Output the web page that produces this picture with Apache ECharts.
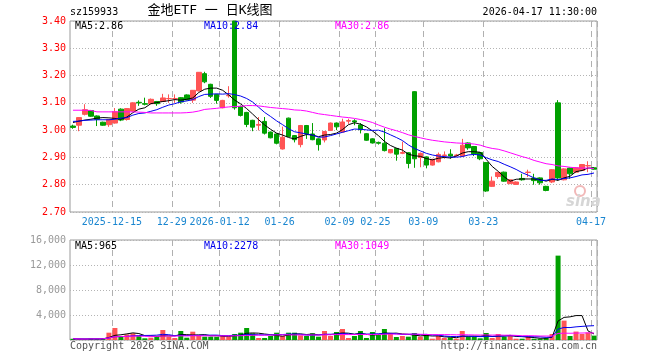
<!DOCTYPE html>
<html><head><meta charset="utf-8">
<script src="https://cdn.jsdelivr.net/npm/echarts@6/dist/echarts.min.js"></script>
<style>html,body{margin:0;padding:0;background:#fff}#c{width:660px;height:360px}</style>
</head><body><div id="c"></div>
<script>
const dates = [
'2025-12-04','2025-12-05','2025-12-08','2025-12-09','2025-12-10','2025-12-11','2025-12-12',
'2025-12-15','2025-12-16','2025-12-17','2025-12-18','2025-12-19','2025-12-22','2025-12-23','2025-12-24','2025-12-25','2025-12-26',
'2025-12-29','2025-12-30','2025-12-31',
'2026-01-05','2026-01-06','2026-01-07','2026-01-08','2026-01-09','2026-01-12','2026-01-13','2026-01-14','2026-01-15','2026-01-16',
'2026-01-19','2026-01-20','2026-01-21','2026-01-22','2026-01-23','2026-01-26','2026-01-27','2026-01-28','2026-01-29','2026-01-30',
'2026-02-02','2026-02-03','2026-02-04','2026-02-05','2026-02-06','2026-02-09','2026-02-10','2026-02-11','2026-02-12','2026-02-13',
'2026-02-24','2026-02-25','2026-02-26','2026-02-27',
'2026-03-02','2026-03-03','2026-03-04','2026-03-05','2026-03-06','2026-03-09','2026-03-10','2026-03-11','2026-03-12','2026-03-13',
'2026-03-16','2026-03-17','2026-03-18','2026-03-19','2026-03-20','2026-03-23','2026-03-24','2026-03-25','2026-03-26','2026-03-27',
'2026-03-30','2026-03-31','2026-04-01','2026-04-02','2026-04-03','2026-04-07','2026-04-08','2026-04-09','2026-04-10',
'2026-04-13','2026-04-14','2026-04-15','2026-04-16','2026-04-17'];

const opens = [3.015,3.018,3.058,3.072,3.052,3.029,3.020,3.026,3.077,3.039,3.070,3.102,3.097,3.097,3.105,3.105,3.115,3.115,3.119,3.129,
3.110,3.144,3.207,3.168,3.131,3.082,3.126,3.400,3.087,3.065,3.036,3.018,3.032,2.993,2.986,2.931,3.044,2.980,2.947,3.017,
2.986,2.968,2.964,2.999,3.026,2.993,3.033,3.034,3.019,2.987,2.968,2.955,2.952,2.917,2.933,2.915,2.917,3.141,2.900,2.902,
2.872,2.884,2.907,2.912,2.907,2.905,2.953,2.940,2.918,2.881,2.794,2.830,2.846,2.804,2.801,2.823,2.845,2.824,2.825,2.794,
2.810,3.100,2.818,2.861,2.846,2.852,2.869,2.862];
const closes = [3.010,3.046,3.075,3.051,3.040,3.018,3.039,3.067,3.037,3.079,3.100,3.100,3.095,3.113,3.097,3.118,3.116,3.116,3.103,3.111,
3.146,3.212,3.177,3.124,3.109,3.109,3.128,3.082,3.054,3.021,3.011,3.021,2.989,2.972,2.952,2.974,2.977,2.965,3.017,2.986,
2.965,2.947,2.995,3.026,3.012,3.030,3.035,3.030,3.002,2.963,2.953,2.952,2.925,2.929,2.912,2.918,2.878,2.895,2.915,2.872,
2.893,2.911,2.909,2.905,2.909,2.945,2.935,2.913,2.895,2.777,2.813,2.845,2.813,2.818,2.810,2.818,2.846,2.815,2.807,2.779,
2.855,2.825,2.858,2.840,2.862,2.874,2.870,2.857];
const lows = [3.005,2.996,3.054,3.049,3.015,3.016,3.012,3.024,3.033,3.035,3.068,3.089,3.091,3.095,3.089,3.103,3.100,3.100,3.097,3.109,
3.100,3.142,3.172,3.118,3.097,3.080,3.119,3.075,3.050,3.011,2.996,2.999,2.984,2.970,2.948,2.929,2.975,2.955,2.937,2.968,
2.963,2.925,2.955,2.997,3.000,2.991,3.023,3.018,2.988,2.961,2.951,2.947,2.922,2.915,2.888,2.912,2.860,2.862,2.864,2.860,
2.870,2.882,2.895,2.895,2.903,2.903,2.928,2.905,2.890,2.774,2.792,2.822,2.811,2.802,2.799,2.815,2.828,2.800,2.800,2.776,
2.806,2.815,2.816,2.822,2.844,2.850,2.846,2.855];
const highs = [3.020,3.048,3.095,3.074,3.054,3.031,3.041,3.081,3.080,3.081,3.102,3.109,3.119,3.116,3.107,3.133,3.131,3.131,3.121,3.131,
3.147,3.213,3.214,3.170,3.133,3.111,3.161,3.400,3.090,3.067,3.038,3.048,3.048,2.995,2.988,3.013,3.046,2.982,3.019,3.019,
3.026,2.970,2.997,3.028,3.028,3.042,3.042,3.040,3.026,2.989,2.970,2.958,3.007,2.931,2.935,2.958,2.919,3.143,2.918,2.904,
2.895,2.918,2.922,2.930,2.913,2.968,2.955,2.942,2.920,2.883,2.830,2.847,2.848,2.820,2.812,2.840,2.855,2.840,2.827,2.796,
2.857,3.110,2.860,2.863,2.864,2.876,2.886,2.864];
const volumes = [200,150,130,220,180,260,1170,1920,640,900,1070,640,270,370,530,1600,530,320,1440,370,
1330,640,530,530,530,800,530,960,1170,1920,1070,320,320,640,1170,640,1170,1170,750,640,
1070,530,1440,640,1280,1760,320,640,1440,320,1280,850,1760,1120,480,640,530,1120,530,800,
210,640,320,430,210,1440,530,530,270,1120,320,960,530,800,210,210,530,210,210,320,
960,13500,3100,640,1350,960,1200,700];

// moving-average values before a full window exists
const ma5Head = [3.028,3.033,3.037,3.040];
const ma10Head = [3.032,3.033,3.036,3.037,3.038,3.038,3.038,3.040,3.044];
const ma30Head = [3.073,3.073,3.073,3.072,3.067,3.067,3.067,3.067,3.067,3.067,3.067,3.066,3.065,3.063,3.063,3.063,3.063,3.063,3.063,3.064,
3.066,3.070,3.076,3.078,3.080,3.083,3.085,3.087,3.087];

const tickDates = ['2025-12-15','2025-12-29','2026-01-12','2026-01-26','2026-02-09','2026-02-25','2026-03-09','2026-03-23','2026-04-17'];
const tickLabels = ['2025-12-15','12-29','2026-01-12','01-26','02-09','02-25','03-09','03-23','04-17'];
const priceTicks = [2.7,2.8,2.9,3.0,3.1,3.2,3.3,3.4];
const volTicks = [0,4000,8000,12000,16000];
const priceMaText = ['MA5:2.86','MA10:2.84','MA30:2.86'];
const volMaText = ['MA5:965','MA10:2278','MA30:1049'];

function movingAvg(arr, n, head, dec) {
  return arr.map((v, i) => {
    let s = 0, c = 0;
    if (i < n - 1) {
      if (head) return head[i];
      for (let k = 0; k <= i; k++) { s += arr[k]; c++; }
    } else {
      for (let k = i - n + 1; k <= i; k++) { s += arr[k]; c++; }
    }
    return +(s / c).toFixed(dec);
  });
}

const UP = '#ff5555', DOWN = '#00a000';
const tickIdx = tickDates.map(d => dates.indexOf(d));
const isTick = (i) => tickIdx.indexOf(i) >= 0;
const labelFor = {};
tickDates.forEach((d, k) => labelFor[d] = tickLabels[k]);

const kData = dates.map((d, i) => [opens[i], closes[i], lows[i], highs[i]]);
const volData = volumes.map((v, i) => ({
  value: v,
  itemStyle: { color: closes[i] >= opens[i] ? UP : DOWN }
}));

const FONT = 'DejaVu Sans Mono';
const gridLine = { show: true, lineStyle: { color: '#b4b4b4', type: [1, 2], width: 1 } };
const vLine = { show: true, interval: (i) => isTick(i), lineStyle: { color: '#b0b0b0', type: [6, 4], width: 1 } };

const chart = echarts.init(document.getElementById('c'), null, { renderer: 'canvas' });
const lineS = (name, data, color, xi, yi) => ({
  name, type: 'line', data, xAxisIndex: xi, yAxisIndex: yi, symbol: 'none', silent: true,
  lineStyle: { color, width: 1 }, z: 5, animation: false
});

chart.setOption({
  animation: false,
  grid: [
    { left: 70, top: 21, width: 527, height: 191, show: true, borderColor: '#9a9a9a', borderWidth: 1 },
    { left: 70, top: 240, width: 527, height: 100, show: true, borderColor: '#9a9a9a', borderWidth: 1 }
  ],
  xAxis: [
    { type: 'category', gridIndex: 0, data: dates, boundaryGap: true,
      axisLine: { show: false }, axisTick: { show: false },
      axisLabel: { interval: (i) => isTick(i), formatter: (v) => labelFor[v] || '',
        color: '#1a86d0', fontFamily: FONT, fontSize: 10, margin: 5, padding: [0, 6, 0, 0] },
      splitLine: vLine },
    { type: 'category', gridIndex: 1, data: dates, boundaryGap: true,
      axisLine: { show: false }, axisTick: { show: false }, axisLabel: { show: false },
      splitLine: vLine }
  ],
  yAxis: [
    { type: 'value', gridIndex: 0, min: priceTicks[0], max: priceTicks[priceTicks.length - 1], interval: 0.1,
      axisLine: { show: false }, axisTick: { show: false },
      axisLabel: { color: '#ff0000', fontFamily: FONT, fontSize: 10, margin: 4, formatter: (v) => v.toFixed(2) },
      splitLine: gridLine },
    { type: 'value', gridIndex: 1, min: volTicks[0], max: volTicks[volTicks.length - 1], interval: 4000,
      axisLine: { show: false }, axisTick: { show: false },
      axisLabel: { color: '#999999', fontFamily: FONT, fontSize: 10, margin: 4, showMinLabel: false },
      splitLine: gridLine }
  ],
  series: [
    { type: 'candlestick', data: kData, xAxisIndex: 0, yAxisIndex: 0, barWidth: 5, silent: true,
      itemStyle: { color: UP, color0: DOWN, borderColor: UP, borderColor0: DOWN, borderWidth: 1 }, z: 3 },
    lineS('MA5', movingAvg(closes, 5, ma5Head, 3), '#000000', 0, 0),
    lineS('MA10', movingAvg(closes, 10, ma10Head, 3), '#0000ee', 0, 0),
    lineS('MA30', movingAvg(closes, 30, ma30Head, 3), '#ff00ff', 0, 0),
    { type: 'bar', data: volData, xAxisIndex: 1, yAxisIndex: 1, barWidth: 5, silent: true, z: 3 },
    lineS('VMA5', movingAvg(volumes, 5, null, 0), '#000000', 1, 1),
    lineS('VMA10', movingAvg(volumes, 10, null, 0), '#0000ee', 1, 1),
    lineS('VMA30', movingAvg(volumes, 30, null, 0), '#ff00ff', 1, 1)
  ],
  graphic: [
    { type: 'text', left: 70, top: 7, z: 100, style: { text: 'sz159933', font: '10px ' + FONT, fill: '#000' } },
    { type: 'text', x: 210, y: 11, z: 100, style: { text: '金地ETF 一 日K线图', font: '13px "DejaVu Sans Mono","Noto Sans CJK SC"', fill: '#000', align: 'center', verticalAlign: 'middle' } },
    { type: 'text', x: 597, y: 12, z: 100, style: { text: '2026-04-17 11:30:00', font: '10px ' + FONT, fill: '#000', align: 'right', verticalAlign: 'middle' } },
    { type: 'text', x: 75, y: 26, z: 100, style: { text: priceMaText[0], font: '10px ' + FONT, fill: '#000', verticalAlign: 'middle' } },
    { type: 'text', x: 204, y: 26, z: 100, style: { text: priceMaText[1], font: '10px ' + FONT, fill: '#0000ee', verticalAlign: 'middle' } },
    { type: 'text', x: 335, y: 26, z: 100, style: { text: priceMaText[2], font: '10px ' + FONT, fill: '#ff00ff', verticalAlign: 'middle' } },
    { type: 'text', x: 75, y: 246, z: 100, style: { text: volMaText[0], font: '10px ' + FONT, fill: '#000', verticalAlign: 'middle' } },
    { type: 'text', x: 204, y: 246, z: 100, style: { text: volMaText[1], font: '10px ' + FONT, fill: '#0000ee', verticalAlign: 'middle' } },
    { type: 'text', x: 335, y: 246, z: 100, style: { text: volMaText[2], font: '10px ' + FONT, fill: '#ff00ff', verticalAlign: 'middle' } },
    { type: 'text', x: 70, y: 346, z: 100, style: { text: 'Copyright 2026 SINA.COM', font: '10px ' + FONT, fill: '#555', verticalAlign: 'middle' } },
    { type: 'text', x: 597, y: 346, z: 100, style: { text: 'http://finance.sina.com.cn', font: '10px ' + FONT, fill: '#555', align: 'right', verticalAlign: 'middle' } },
    { type: 'circle', z: 1, shape: { cx: 580, cy: 191, r: 5 }, style: { fill: 'none', stroke: '#f2b8b8', lineWidth: 2 } },
    { type: 'text', x: 566, y: 202, z: 1, style: { text: 'sina', font: 'italic bold 15px "DejaVu Sans"', fill: '#d6d6d6', verticalAlign: 'middle' } }
  ]
});
</script></body></html>
